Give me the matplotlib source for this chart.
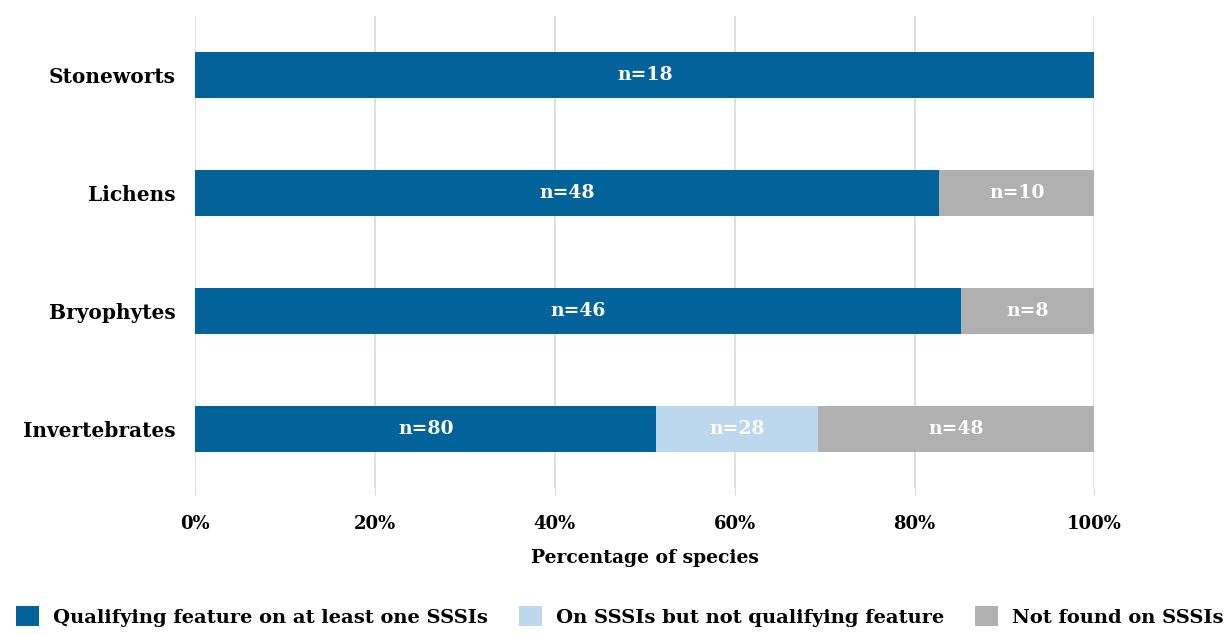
import numpy as np
import matplotlib.pyplot as plt
from matplotlib.patches import Patch

groups = ["Stoneworts", "Lichens", "Bryophytes", "Invertebrates"]
series = [
    "Qualifying feature on at least one SSSIs",
    "On SSSIs but not qualifying feature",
    "Not found on SSSIs",
]
qualifying = [18, 48, 46, 80]
on_sssi = [0, 0, 0, 28]
not_found = [0, 10, 8, 48]
xticks = [0, 20, 40, 60, 80, 100]

colors = ["#02639B", "#BDD7EE", "#B0B0B0"]
font = "DejaVu Serif"

counts = np.array([qualifying, on_sssi, not_found], dtype=float)
totals = counts.sum(axis=0)
pct = counts / totals * 100

fig = plt.figure(figsize=(12.27, 6.34), dpi=100)
ax = fig.add_axes([0.159, 0.230, 0.733, 0.745])

y = np.arange(len(groups))
left = np.zeros(len(groups))
for i, (name, color) in enumerate(zip(series, colors)):
    bars = ax.barh(y, pct[i], left=left, height=0.39, color=color, label=name, zorder=2)
    for j, bar in enumerate(bars):
        if counts[i, j] > 0:
            ax.text(left[j] + pct[i, j] / 2, y[j], f"n={int(counts[i, j])}",
                    ha="center", va="center", color="white", fontsize=13.5,
                    fontweight="bold", family=font, zorder=3)
    left += pct[i]

ax.set_ylim(3.5, -0.5)
ax.set_xlim(0, 100)
ax.set_yticks(y)
ax.set_yticklabels(groups, fontsize=14.5, fontweight="bold", family=font)
ax.set_xticks(xticks)
ax.set_xticklabels([f"{v}%" for v in xticks], fontsize=13, fontweight="bold", family=font)
ax.tick_params(axis="y", length=0, pad=14)
ax.tick_params(axis="x", length=5, color="#D9D9D9", pad=14)
ax.grid(axis="x", color="#D9D9D9", linewidth=1.2, zorder=0)
ax.set_axisbelow(True)
for s in ax.spines.values():
    s.set_visible(False)
ax.set_xlabel("Percentage of species", fontsize=13.5, fontweight="bold", family=font, labelpad=12)

handles = [Patch(facecolor=c, label=n) for n, c in zip(series, colors)]
fig.legend(handles=handles, loc="center", bbox_to_anchor=(0.505, 0.028), ncol=3,
           frameon=False, prop={"family": font, "weight": "bold", "size": 14},
           handlelength=1.2, handleheight=1.2, columnspacing=1.6, handletextpad=0.7)

fig.savefig("out.png", dpi=100)
